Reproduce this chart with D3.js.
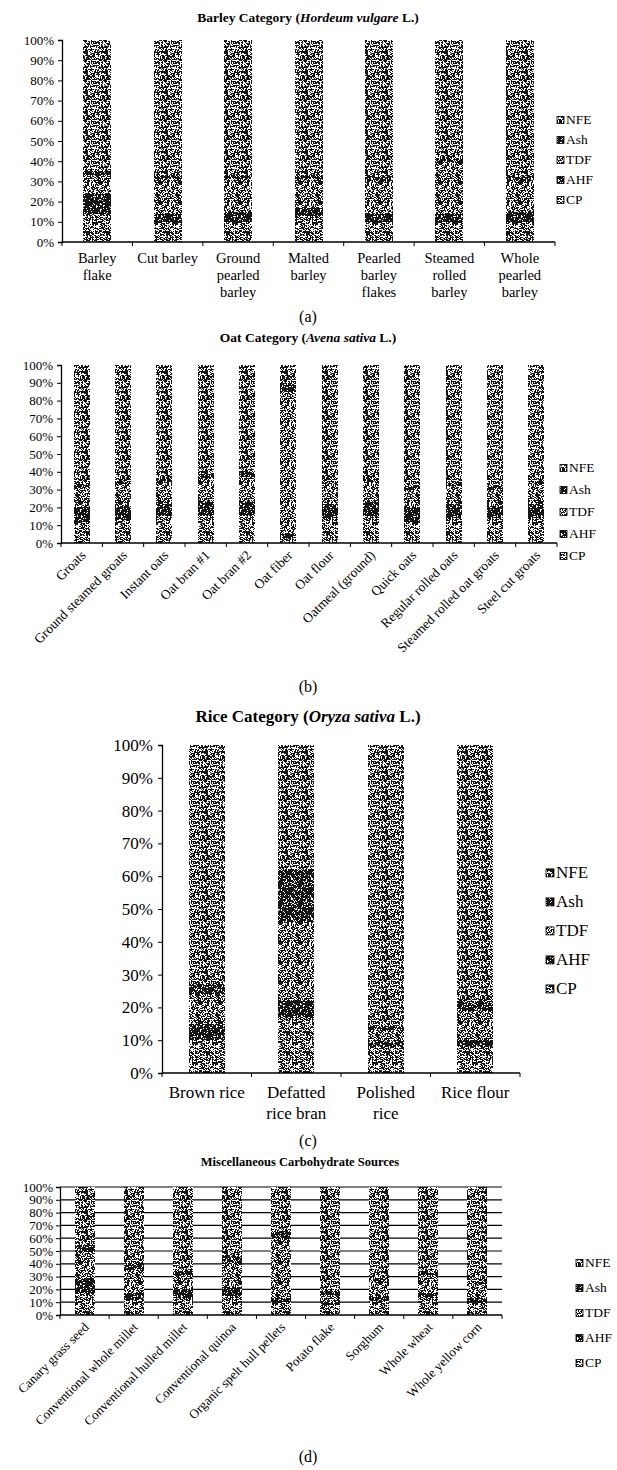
<!DOCTYPE html>
<html>
<head>
<meta charset="utf-8">
<script src="https://cdn.jsdelivr.net/npm/d3@7"></script>
<style>
  body { margin: 0; background: #fff; }
  svg { display: block; font-family: "Liberation Serif", "Times New Roman", serif; }
</style>
</head>
<body>
<div id="chart"></div>
<script>
const keys = ["CP", "AHF", "TDF", "Ash", "NFE"]
const yTicks = [0, .1, .2, .3, .4, .5, .6, .7, .8, .9, 1]

// (a) barley
const barleyCats = ["Barley flake", "Cut barley", "Ground pearled barley", "Malted barley", "Pearled barley flakes", "Steamed rolled barley", "Whole pearled barley"]
const barleyCP  = [14, 10, 10, 13, 10, 10, 10]
const barleyAHF = [10, 4, 5, 4, 4, 4, 5]
const barleyTDF = [9, 17, 16, 14, 16, 25, 15]
const barleyAsh = [2, 2, 2, 2, 2, 2, 2]
const barleyNFE = [65, 67, 67, 67, 68, 59, 68]

// (b) oat
const oatCats = ["Groats", "Ground steamed groats", "Instant oats", "Oat bran #1", "Oat bran #2", "Oat fiber", "Oat flour", "Oatmeal (ground)", "Quick oats", "Regular rolled oats", "Steamed rolled oat groats", "Steel cut groats"]
const oatCP  = [12, 13, 15, 16, 16, 3, 14, 15, 12, 14, 14, 14]
const oatAHF = [8, 8, 7, 7, 7, 2, 8, 8, 8, 8, 7, 8]
const oatTDF = [11, 12, 12, 13, 14, 80, 11, 11, 10, 10, 9, 11]
const oatAsh = [2, 2, 2, 3, 3, 5, 2, 2, 2, 2, 2, 2]
const oatNFE = [67, 65, 64, 61, 60, 10, 65, 64, 68, 66, 68, 65]

// (c) rice
const riceCats = ["Brown rice", "Defatted rice bran", "Polished rice", "Rice flour"]
const riceCP  = [10, 17, 8, 8]
const riceAHF = [5, 5, 1, 2]
const riceTDF = [9, 24, 4, 9]
const riceAsh = [3, 16, 1, 3]
const riceNFE = [73, 38, 86, 78]

// (d) miscellaneous
const miscCats = ["Canary grass seed", "Conventional whole millet", "Conventional hulled millet", "Conventional quinoa", "Organic spelt hull pellets", "Potato flake", "Sorghum", "Whole wheat", "Whole yellow corn"]
const miscCP  = [17, 12, 13, 15, 10, 8, 11, 14, 9]
const miscAHF = [11, 5, 7, 7, 3, 1, 4, 3, 4]
const miscTDF = [21, 18, 11, 18, 47, 7, 12, 14, 11]
const miscAsh = [6, 6, 3, 6, 5, 3, 2, 2, 2]
const miscNFE = [45, 59, 66, 54, 35, 81, 71, 67, 74]

const width = 617, height = 1470

const svg = d3.select("#chart").append("svg")
    .attr("width", width)
    .attr("height", height)

// speckled fills (scanned look); a small hash picks the dark pixels of each tile
const density = { CP: 0.55, AHF: 0.86, TDF: 0.52, Ash: 0.8, NFE: 0.58 }
const T = 20
const defs = svg.append("defs")
keys.forEach((k, ki) => {
  let p = defs.append("pattern")
      .attr("id", "pat-" + k)
      .attr("patternUnits", "userSpaceOnUse")
      .attr("width", T).attr("height", T)
  p.append("rect").attr("width", T).attr("height", T).attr("fill", "#fff")
  let path = ""
  for (let j = 0; j < T; j++) {
    for (let i = 0; i < T; i++) {
      let h = Math.sin((i + 1) * 12.9898 + (j + 1) * 78.233 + ki * 37.719) * 43758.5453
      h = h - Math.floor(h)
      if (h < density[k]) path += `M${i},${j}h1v1h-1z`
    }
  }
  p.append("path").attr("d", path).attr("fill", "#151515")
})

function wrap(textSel, maxW, lh) {
  textSel.each(function () {
    let t = d3.select(this)
    let words = t.text().split(" ")
    t.text(null)
    let lines = [], line = []
    let probe = t.append("tspan")
    words.forEach(w => {
      line.push(w)
      probe.text(line.join(" "))
      if (probe.node().getComputedTextLength() > maxW && line.length > 1) {
        line.pop()
        lines.push(line.join(" "))
        line = [w]
      }
    })
    lines.push(line.join(" "))
    probe.remove()
    lines.forEach((l, i) => t.append("tspan").attr("x", 0).attr("dy", i === 0 ? 0 : lh).text(l))
  })
}

function drawPanel(o) {
  let rows = o.cats.map((c, i) => {
    let r = { cat: c }
    keys.forEach(k => r[k] = o.vals[k][i])
    return r
  })
  let stacked = d3.stack().keys(keys).offset(d3.stackOffsetExpand)(rows)

  let x = d3.scaleBand().domain(o.cats).range([o.left, o.right])
  let y = d3.scaleLinear().domain([0, 1]).range([o.bottom, o.top])
  let g = svg.append("g")

  // title
  let title = g.append("text")
      .attr("x", o.titleX).attr("y", o.titleY)
      .attr("text-anchor", "middle")
      .attr("font-weight", "bold")
      .attr("font-size", o.titleSize)
  o.title.forEach(part => title.append("tspan").attr("font-style", part[1] ? "italic" : null).text(part[0]))

  if (o.grid) {
    g.append("g").selectAll("line").data(yTicks.slice(1))
      .join("line")
      .attr("x1", o.left).attr("x2", o.right)
      .attr("y1", d => y(d)).attr("y2", d => y(d))
      .attr("stroke", "#000").attr("stroke-width", 1.2)
  }

  let bw = o.barW
  g.append("g").selectAll("g").data(stacked).join("g")
      .attr("fill", d => "url(#pat-" + d.key + ")")
      .selectAll("rect").data(d => d).join("rect")
      .attr("x", d => x(d.data.cat) + x.bandwidth() / 2 - bw / 2)
      .attr("width", bw)
      .attr("y", d => y(d[1]))
      .attr("height", d => y(d[0]) - y(d[1]))
      .attr("shape-rendering", "crispEdges")

  // y axis
  let ya = g.append("g")
      .attr("transform", `translate(${o.left},0)`)
      .call(d3.axisLeft(y).tickValues(yTicks).tickFormat(d3.format(".0%")).tickSize(4).tickPadding(o.tickPad))
  ya.selectAll("text").attr("font-size", o.tickSize).attr("fill", "#000").attr("font-family", "Liberation Serif")
  ya.selectAll("line").attr("stroke", "#000")
  ya.select(".domain").attr("stroke", "#000").attr("stroke-width", 1.3)

  // x axis with ticks between categories
  let xa = g.append("g")
  xa.append("line")
      .attr("x1", o.left).attr("x2", o.right)
      .attr("y1", o.bottom).attr("y2", o.bottom)
      .attr("stroke", "#000").attr("stroke-width", 1.3)
  xa.selectAll("line.tk").data(d3.range(o.cats.length + 1))
    .join("line").attr("class", "tk")
      .attr("x1", i => o.left + i * x.step()).attr("x2", i => o.left + i * x.step())
      .attr("y1", o.bottom).attr("y2", o.bottom + 4)
      .attr("stroke", "#000")

  let labels = xa.selectAll("text.cat").data(o.cats).join("text")
      .attr("class", "cat")
      .attr("font-size", o.catSize)
      .text(d => d)
  if (o.rotate) {
    labels.attr("text-anchor", "end")
        .attr("transform", d => `translate(${x(d) + x.bandwidth() / 2 + 5},${o.bottom + 13}) rotate(-45)`)
  } else {
    labels.attr("text-anchor", "middle")
        .attr("transform", d => `translate(${x(d) + x.bandwidth() / 2},${o.catY})`)
      .call(wrap, o.wrapW, o.catLH)
  }

  // legend, NFE first
  let lg = g.append("g").selectAll("g").data(keys.slice().reverse()).join("g")
      .attr("transform", (d, i) => `translate(${o.legX},${o.legY + i * o.legDy})`)
  lg.append("rect")
      .attr("x", 0).attr("y", -o.legBox / 2 - o.legSize * 0.3)
      .attr("width", o.legBox).attr("height", o.legBox)
      .attr("fill", d => "url(#pat-" + d + ")")
      .attr("stroke", "#000").attr("stroke-width", 0.8)
  lg.append("text")
      .attr("x", o.legBox + 2).attr("y", 0)
      .attr("font-size", o.legSize)
      .text(d => d)

  g.append("text")
      .attr("x", o.capX).attr("y", o.capY)
      .attr("text-anchor", "middle")
      .attr("font-size", o.capSize)
      .text(o.caption)
}

drawPanel({
  cats: barleyCats,
  vals: { CP: barleyCP, AHF: barleyAHF, TDF: barleyTDF, Ash: barleyAsh, NFE: barleyNFE },
  left: 62, right: 555, top: 40, bottom: 242, barW: 28,
  title: [["Barley Category ("], ["Hordeum vulgare", true], [" L.)"]], titleX: 308, titleY: 22, titleSize: 13.5,
  tickSize: 13, tickPad: 4, catSize: 14.5, catY: 263, wrapW: 64, catLH: 17,
  legX: 557, legY: 124, legDy: 20, legBox: 7, legSize: 13.5,
  caption: "(a)", capX: 308, capY: 322, capSize: 16
})

drawPanel({
  cats: oatCats,
  vals: { CP: oatCP, AHF: oatAHF, TDF: oatTDF, Ash: oatAsh, NFE: oatNFE },
  left: 61, right: 557, top: 365, bottom: 543, barW: 16, rotate: true,
  title: [["Oat Category ("], ["Avena sativa", true], [" L.)"]], titleX: 308, titleY: 342, titleSize: 13.5,
  tickSize: 13, tickPad: 4, catSize: 13.5,
  legX: 560, legY: 472, legDy: 22, legBox: 7, legSize: 13.5,
  caption: "(b)", capX: 308, capY: 692, capSize: 16
})

drawPanel({
  cats: riceCats,
  vals: { CP: riceCP, AHF: riceAHF, TDF: riceTDF, Ash: riceAsh, NFE: riceNFE },
  left: 162, right: 520, top: 745, bottom: 1073, barW: 36,
  title: [["Rice Category ("], ["Oryza sativa", true], [" L.)"]], titleX: 308, titleY: 722, titleSize: 17,
  tickSize: 17, tickPad: 5, catSize: 17, catY: 1098, wrapW: 86, catLH: 21,
  legX: 546, legY: 878, legDy: 29, legBox: 8, legSize: 17,
  caption: "(c)", capX: 308, capY: 1146, capSize: 16
})

drawPanel({
  cats: miscCats,
  vals: { CP: miscCP, AHF: miscAHF, TDF: miscTDF, Ash: miscAsh, NFE: miscNFE },
  left: 60, right: 502, top: 1187, bottom: 1315, barW: 20, rotate: true, grid: true,
  title: [["Miscellaneous Carbohydrate Sources"]], titleX: 300, titleY: 1166, titleSize: 12.5,
  tickSize: 13, tickPad: 3, catSize: 13,
  legX: 576, legY: 1267, legDy: 25, legBox: 7, legSize: 13.5,
  caption: "(d)", capX: 308, capY: 1462, capSize: 16
})
</script>
</body>
</html>
